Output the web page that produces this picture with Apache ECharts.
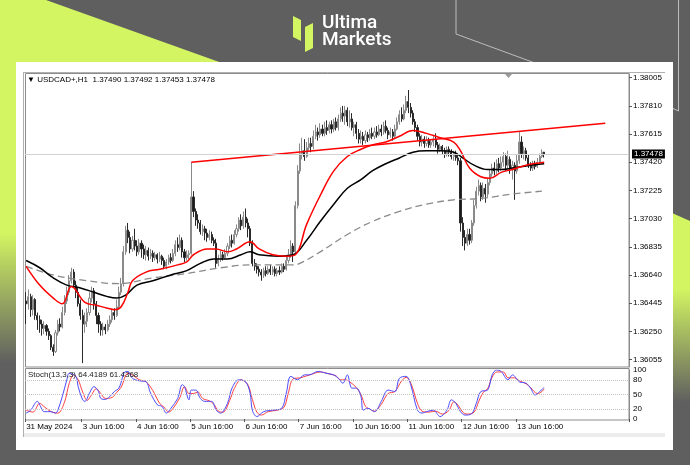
<!DOCTYPE html>
<html><head><meta charset="utf-8">
<script src="https://cdn.jsdelivr.net/npm/echarts@6/dist/echarts.min.js"></script>
<style>html,body{margin:0;padding:0;background:#5f5f5f}#c{width:690px;height:465px}</style>
</head><body><div id="c"></div>
<script>
const symbolName = 'USDCAD+,H1';
const lastOHLC = ['1.37490','1.37492','1.37453','1.37478'];
const lastPrice = 1.37478;
const stochTitle = 'Stoch(13,3,3) 64.4189 61.4368';
const dateTickIndex = [0,25,49,73,97,121,145,169,193,217];
const dateTickLabels = ['31 May 2024','3 Jun 16:00','4 Jun 16:00','5 Jun 16:00','6 Jun 16:00','7 Jun 16:00','10 Jun 16:00','11 Jun 16:00','12 Jun 16:00','13 Jun 16:00'];
const priceTicks = [1.36055,1.36250,1.36445,1.36640,1.36835,1.37030,1.37225,1.37420,1.37615,1.37810,1.38005];
const stochTicks = [0,20,50,80,100];
const stochLevels = [20,50,80];
const slotCount = 267;
// [open, close, low, high]
const candles = [
[1.3646,1.3644,1.3630,1.3652],[1.3644,1.3649,1.3640,1.3654],[1.3649,1.3640,1.3635,1.3651],[1.3640,1.3647,1.3636,1.3650],
[1.3647,1.3636,1.3633,1.3648],[1.3636,1.3633,1.3626,1.3638],[1.3633,1.3630,1.3624,1.3636],[1.3630,1.3627,1.3622,1.3633],
[1.3627,1.3629,1.3623,1.3632],[1.3629,1.3625,1.3622,1.3630],[1.3625,1.3622,1.3619,1.3627],[1.3622,1.3614,1.3612,1.3623],
[1.3614,1.3611,1.3608,1.3616],[1.3611,1.3624,1.3610,1.3626],[1.3624,1.3630,1.3622,1.3633],[1.3630,1.3628,1.3625,1.3634],
[1.3628,1.3638,1.3627,1.3642],[1.3638,1.3646,1.3636,1.3650],[1.3646,1.3652,1.3644,1.3656],[1.3652,1.3660,1.3650,1.3664],
[1.3660,1.3666,1.3658,1.3669],[1.3666,1.3657,1.3656,1.3668],[1.3657,1.3652,1.3648,1.3660],[1.3652,1.3644,1.3642,1.3655],
[1.3644,1.3636,1.3633,1.3647],[1.3636,1.3630,1.3603,1.3640],[1.3630,1.3632,1.3624,1.3638],[1.3632,1.3638,1.3628,1.3641],
[1.3638,1.3648,1.3636,1.3652],[1.3648,1.3653,1.3645,1.3656],[1.3653,1.3644,1.3640,1.3655],[1.3644,1.3636,1.3630,1.3646],
[1.3636,1.3630,1.3624,1.3638],[1.3630,1.3626,1.3622,1.3632],[1.3626,1.3628,1.3622,1.3631],[1.3628,1.3626,1.3623,1.3630],
[1.3626,1.3630,1.3625,1.3633],[1.3630,1.3633,1.3628,1.3636],[1.3633,1.3638,1.3631,1.3640],[1.3638,1.3636,1.3633,1.3641],
[1.3636,1.3642,1.3635,1.3647],[1.3642,1.3652,1.3640,1.3656],[1.3652,1.3658,1.3650,1.3662],[1.3658,1.3680,1.3656,1.3684],
[1.3680,1.3695,1.3678,1.3698],[1.3695,1.3690,1.3686,1.3700],[1.3690,1.3682,1.3679,1.3694],[1.3682,1.3688,1.3680,1.3691],
[1.3688,1.3684,1.3681,1.3696],[1.3684,1.3680,1.3677,1.3688],[1.3680,1.3686,1.3678,1.3689],[1.3686,1.3682,1.3676,1.3688],
[1.3682,1.3678,1.3675,1.3685],[1.3678,1.3681,1.3674,1.3684],[1.3681,1.3677,1.3674,1.3683],[1.3677,1.3679,1.3675,1.3682],
[1.3679,1.3676,1.3673,1.3681],[1.3676,1.3678,1.3674,1.3680],[1.3678,1.3675,1.3672,1.3679],[1.3675,1.3677,1.3673,1.3680],
[1.3677,1.3674,1.3671,1.3678],[1.3674,1.3670,1.3668,1.3676],[1.3670,1.3673,1.3668,1.3675],[1.3673,1.3676,1.3671,1.3678],
[1.3676,1.3674,1.3672,1.3679],[1.3674,1.3679,1.3673,1.3682],[1.3679,1.3685,1.3677,1.3688],[1.3685,1.3683,1.3680,1.3690],
[1.3683,1.3688,1.3681,1.3692],[1.3688,1.3680,1.3676,1.3690],[1.3680,1.3676,1.3673,1.3682],[1.3676,1.3678,1.3674,1.3681],
[1.3678,1.3679,1.3675,1.3681],[1.3679,1.3718,1.3678,1.3742],[1.3718,1.3708,1.3704,1.3722],[1.3708,1.3702,1.3698,1.3710],
[1.3702,1.3700,1.3696,1.3706],[1.3700,1.3694,1.3692,1.3702],[1.3694,1.3696,1.3691,1.3699],[1.3696,1.3693,1.3688,1.3698],
[1.3693,1.3690,1.3687,1.3696],[1.3690,1.3692,1.3688,1.3695],[1.3692,1.3688,1.3686,1.3694],[1.3688,1.3686,1.3684,1.3690],
[1.3686,1.3672,1.3669,1.3689],[1.3672,1.3675,1.3670,1.3678],[1.3675,1.3678,1.3673,1.3681],[1.3678,1.3676,1.3674,1.3680],
[1.3676,1.3679,1.3675,1.3682],[1.3679,1.3684,1.3677,1.3686],[1.3684,1.3688,1.3682,1.3691],[1.3688,1.3686,1.3683,1.3692],
[1.3686,1.3692,1.3685,1.3695],[1.3692,1.3696,1.3690,1.3699],[1.3696,1.3702,1.3694,1.3704],[1.3702,1.3698,1.3695,1.3706],
[1.3698,1.3704,1.3696,1.3708],[1.3704,1.3700,1.3697,1.3710],[1.3700,1.3696,1.3690,1.3703],[1.3696,1.3686,1.3684,1.3698],
[1.3686,1.3672,1.3670,1.3688],[1.3672,1.3670,1.3667,1.3675],[1.3670,1.3668,1.3665,1.3672],[1.3668,1.3666,1.3663,1.3670],
[1.3666,1.3664,1.3660,1.3668],[1.3664,1.3667,1.3662,1.3669],[1.3667,1.3665,1.3663,1.3670],[1.3665,1.3668,1.3664,1.3670],
[1.3668,1.3666,1.3664,1.3671],[1.3666,1.3668,1.3664,1.3670],[1.3668,1.3665,1.3663,1.3670],[1.3665,1.3667,1.3663,1.3669],
[1.3667,1.3666,1.3664,1.3670],[1.3666,1.3670,1.3665,1.3672],[1.3670,1.3668,1.3666,1.3672],[1.3668,1.3674,1.3667,1.3677],
[1.3674,1.3678,1.3672,1.3682],[1.3678,1.3684,1.3676,1.3688],[1.3684,1.3680,1.3673,1.3686],[1.3680,1.3712,1.3678,1.3715],
[1.3712,1.3736,1.3710,1.3740],[1.3736,1.3748,1.3734,1.3755],[1.3748,1.3750,1.3744,1.3759],[1.3750,1.3746,1.3743,1.3758],
[1.3746,1.3752,1.3745,1.3756],[1.3752,1.3755,1.3750,1.3759],[1.3755,1.3753,1.3749,1.3759],[1.3753,1.3760,1.3751,1.3764],
[1.3760,1.3763,1.3758,1.3768],[1.3763,1.3761,1.3757,1.3766],[1.3761,1.3765,1.3759,1.3769],[1.3765,1.3762,1.3760,1.3768],
[1.3762,1.3766,1.3760,1.3770],[1.3766,1.3764,1.3761,1.3771],[1.3764,1.3768,1.3762,1.3770],[1.3768,1.3765,1.3762,1.3771],
[1.3765,1.3770,1.3763,1.3772],[1.3770,1.3766,1.3764,1.3773],[1.3766,1.3772,1.3764,1.3775],[1.3772,1.3776,1.3770,1.3780],
[1.3776,1.3774,1.3770,1.3781],[1.3774,1.3778,1.3768,1.3781],[1.3778,1.3770,1.3767,1.3780],[1.3770,1.3772,1.3766,1.3778],
[1.3772,1.3766,1.3764,1.3776],[1.3766,1.3768,1.3760,1.3770],[1.3768,1.3762,1.3758,1.3770],[1.3762,1.3758,1.3755,1.3765],
[1.3758,1.3760,1.3755,1.3764],[1.3760,1.3757,1.3754,1.3763],[1.3757,1.3761,1.3755,1.3764],[1.3761,1.3759,1.3756,1.3763],
[1.3759,1.3762,1.3757,1.3765],[1.3762,1.3760,1.3758,1.3766],[1.3760,1.3763,1.3758,1.3766],[1.3763,1.3761,1.3759,1.3767],
[1.3761,1.3765,1.3760,1.3768],[1.3765,1.3763,1.3760,1.3768],[1.3763,1.3767,1.3761,1.3770],[1.3767,1.3764,1.3762,1.3771],
[1.3764,1.3761,1.3758,1.3766],[1.3761,1.3763,1.3759,1.3766],[1.3763,1.3760,1.3757,1.3765],[1.3760,1.3765,1.3758,1.3768],
[1.3765,1.3770,1.3764,1.3773],[1.3770,1.3775,1.3768,1.3778],[1.3775,1.3772,1.3770,1.3780],[1.3772,1.3778,1.3771,1.3782],
[1.3778,1.3784,1.3776,1.3788],[1.3784,1.3780,1.3776,1.3792],[1.3780,1.3776,1.3773,1.3783],[1.3776,1.3770,1.3768,1.3778],
[1.3770,1.3766,1.3763,1.3772],[1.3766,1.3760,1.3757,1.3768],[1.3760,1.3756,1.3753,1.3762],[1.3756,1.3758,1.3753,1.3761],
[1.3758,1.3755,1.3752,1.3760],[1.3755,1.3757,1.3753,1.3760],[1.3757,1.3754,1.3752,1.3759],[1.3754,1.3756,1.3752,1.3758],
[1.3756,1.3758,1.3753,1.3761],[1.3758,1.3754,1.3752,1.3762],[1.3754,1.3751,1.3748,1.3756],[1.3751,1.3753,1.3749,1.3755],
[1.3753,1.3750,1.3747,1.3754],[1.3750,1.3748,1.3745,1.3752],[1.3748,1.3751,1.3746,1.3753],[1.3751,1.3749,1.3746,1.3753],
[1.3749,1.3746,1.3744,1.3751],[1.3746,1.3748,1.3743,1.3750],[1.3748,1.3745,1.3743,1.3750],[1.3745,1.3743,1.3740,1.3747],
[1.3743,1.3700,1.3694,1.3745],[1.3700,1.3690,1.3684,1.3704],[1.3690,1.3686,1.3681,1.3695],[1.3686,1.3692,1.3684,1.3696],
[1.3692,1.3688,1.3685,1.3696],[1.3688,1.3700,1.3686,1.3702],[1.3700,1.3712,1.3698,1.3716],[1.3712,1.3722,1.3710,1.3725],
[1.3722,1.3726,1.3719,1.3730],[1.3726,1.3718,1.3715,1.3728],[1.3718,1.3724,1.3716,1.3728],[1.3724,1.3720,1.3714,1.3727],
[1.3720,1.3728,1.3718,1.3731],[1.3728,1.3734,1.3726,1.3737],[1.3734,1.3738,1.3732,1.3741],[1.3738,1.3736,1.3733,1.3742],
[1.3736,1.3741,1.3734,1.3744],[1.3741,1.3738,1.3735,1.3745],[1.3738,1.3742,1.3736,1.3746],[1.3742,1.3746,1.3739,1.3749],
[1.3746,1.3740,1.3736,1.3748],[1.3740,1.3744,1.3738,1.3750],[1.3744,1.3738,1.3734,1.3746],[1.3738,1.3740,1.3730,1.3743],
[1.3740,1.3736,1.3716,1.3742],[1.3736,1.3743,1.3734,1.3747],[1.3743,1.3756,1.3741,1.3763],[1.3756,1.3748,1.3745,1.3760],
[1.3748,1.3750,1.3744,1.3753],[1.3750,1.3745,1.3743,1.3752],[1.3745,1.3740,1.3738,1.3747],[1.3740,1.3738,1.3736,1.3742],
[1.3738,1.3741,1.3736,1.3743],[1.3741,1.3739,1.3737,1.3743],[1.3739,1.3742,1.3738,1.3745],[1.3742,1.3746,1.3741,1.3748],
[1.3746,1.3749,1.3745,1.3751],[1.37490,1.37478,1.37453,1.37492]
];
const maRed = [[0,1.3670],[6,1.3657],[12,1.3648],[16,1.3644],[20,1.3656],[26,1.3645],[31,1.3643],[36,1.3641],[39,1.3640],[42,1.3642],[45,1.3652],[47,1.3660],[53,1.3666],[59,1.3668],[67,1.3671],[71,1.3673],[74,1.3678],[80,1.3682],[84,1.3682],[89,1.3680],[93,1.3682],[99,1.3687],[103,1.3682],[109,1.3678],[115,1.3677],[119,1.3678],[124,1.3699],[130,1.3719],[136,1.3736],[142,1.3746],[148,1.3751],[153,1.3754],[159,1.3756],[165,1.3760],[171,1.3764],[177,1.3762],[183,1.3759],[189,1.3756],[192,1.3750],[196,1.3738],[201,1.3732],[205,1.3731],[210,1.3735],[215,1.3737],[221,1.3740],[229,1.3742]];
const maBlack = [[0,1.3674],[6,1.3669],[12,1.3662],[18,1.3657],[24,1.3655],[30,1.3652],[36,1.3649],[40,1.3648],[44,1.3650],[49,1.3657],[56,1.3660],[64,1.3664],[71,1.3667],[77,1.3672],[83,1.3675],[89,1.3675],[95,1.3678],[99,1.3680],[103,1.3678],[112,1.3677],[118,1.3678],[124,1.3688],[130,1.3701],[136,1.3713],[142,1.3724],[148,1.3730],[153,1.3736],[159,1.3741],[165,1.3745],[171,1.3749],[177,1.3750],[183,1.3750],[189,1.3749],[193,1.3745],[198,1.3740],[204,1.3737],[210,1.3737],[215,1.3738],[223,1.3740],[229,1.3741]];
const maGrey = [[0,1.3670],[12,1.3664],[27,1.3660],[41,1.3658],[56,1.3662],[71,1.3665],[86,1.3669],[100,1.3671],[118,1.3671],[121,1.3672],[130,1.3680],[142,1.3692],[153,1.3701],[165,1.3708],[177,1.3713],[189,1.3716],[201,1.3717],[215,1.3720],[228,1.3722]];
const trendLine = [[73,1.37420],[256,1.37690]];
const stochMain = [[0,12],[2,18],[5,36],[6,29],[8,15],[11,15],[13,12],[14,18],[16,46],[18,80],[19,93],[22,87],[23,66],[25,39],[26,36],[28,53],[30,66],[32,56],[33,42],[35,40],[37,46],[39,56],[41,63],[44,97],[45,97],[47,83],[50,78],[53,76],[55,53],[58,29],[60,26],[62,12],[64,22],[67,42],[69,70],[70,66],[72,39],[73,59],[75,59],[77,42],[79,36],[82,36],[84,18],[86,12],[89,32],[91,63],[94,80],[97,76],[99,53],[100,18],[102,5],[105,15],[109,18],[113,22],[115,53],[117,87],[120,80],[123,90],[125,90],[129,97],[133,93],[136,90],[138,83],[140,73],[142,90],[144,63],[146,63],[148,46],[149,18],[151,22],[154,15],[157,36],[160,59],[163,56],[165,83],[168,87],[170,70],[173,18],[175,12],[177,15],[180,18],[183,5],[186,18],[188,39],[190,32],[192,15],[194,8],[197,11],[199,32],[201,56],[204,59],[206,90],[208,100],[210,97],[213,80],[215,90],[218,76],[221,73],[223,63],[225,49],[227,56],[229,64.4189]];
const stochSignal = [[0,18],[3,14],[6,32],[8,25],[11,15],[14,12],[17,35],[19,72],[21,90],[23,80],[25,55],[27,38],[29,50],[31,62],[33,52],[35,42],[38,44],[40,54],[42,65],[45,93],[47,90],[50,80],[53,76],[56,58],[59,32],[61,24],[63,14],[65,22],[68,44],[70,66],[72,52],[74,52],[76,55],[78,42],[81,37],[83,30],[85,16],[87,14],[90,38],[92,62],[95,80],[98,70],[100,40],[102,14],[104,8],[107,15],[111,18],[114,24],[116,55],[118,82],[121,84],[124,88],[126,91],[130,96],[134,92],[137,88],[139,80],[141,80],[143,76],[146,64],[148,50],[150,26],[152,20],[154,16],[157,30],[160,52],[163,56],[166,78],[168,85],[170,74],[173,32],[175,16],[178,14],[181,16],[184,10],[187,18],[189,35],[191,28],[193,14],[195,10],[198,14],[200,35],[202,54],[204,62],[206,85],[208,96],[211,96],[213,84],[216,84],[218,78],[221,72],[223,64],[226,52],[228,56],[229,61.4368]];

const cats = Array.from({length: slotCount}, (_, i) => String(i));
const lime = '#d3f562', bgGrey = '#5f5f5f';
const FONT = 'Liberation Sans, Arial, sans-serif';

const chart = echarts.init(document.getElementById('c'), null, {renderer: 'canvas'});
const isDateTick = (idx) => dateTickIndex.indexOf(idx) >= 0;

chart.setOption({
  animation: false,
  backgroundColor: bgGrey,
  graphic: [
    {type:'polygon', z:-20, shape:{points:[[0,0],[46,0],[222,63],[16,63],[16,465],[0,465]]},
      style:{fill:{type:'linear',x:0,y:0,x2:0,y2:465,global:true,colorStops:[{offset:0,color:lime},{offset:0.5,color:lime},{offset:0.78,color:bgGrey},{offset:1,color:bgGrey}]}}},
    {type:'polygon', z:-20, shape:{points:[[672,213],[690,221],[690,465],[672,465]]},
      style:{fill:{type:'linear',x:0,y:213,x2:0,y2:465,global:true,colorStops:[{offset:0,color:lime},{offset:0.3,color:lime},{offset:0.75,color:bgGrey},{offset:1,color:bgGrey}]}}},
    {type:'polyline', z:-20, shape:{points:[[456,0],[456,34],[535,63]]}, style:{stroke:'#bdbdbd', lineWidth:1, fill:null}},
    {type:'polyline', z:-20, shape:{points:[[678.5,0],[678.5,111],[672,108]]}, style:{stroke:'#bdbdbd', lineWidth:1, fill:null}},
    {type:'polygon', z:-20, shape:{points:[[293,16],[301,20],[301,41],[293,37]]}, style:{fill:lime}},
    {type:'polygon', z:-20, shape:{points:[[305,27],[313,23],[313,48],[305,52]]}, style:{fill:lime}},
    {type:'text', z:-20, style:{text:'Ultima', x:322, y:23, fill:'#ffffff', font:'500 19px Roboto', textVerticalAlign:'middle'}},
    {type:'text', z:-20, style:{text:'Markets', x:322, y:40, fill:'#ffffff', font:'500 19px Roboto', textVerticalAlign:'middle'}},
    {type:'rect', z:-15, shape:{x:16,y:62,width:657,height:388}, style:{fill:'#ffffff'}},
    {type:'rect', z:-14, shape:{x:23,y:433,width:642,height:4}, style:{fill:'#ececec'}},
    {type:'line', z:-10, shape:{x1:23.5,y1:72,x2:23.5,y2:437}, style:{stroke:'#b0b0b0', lineWidth:1}},
    {type:'line', z:-10, shape:{x1:23,y1:72.5,x2:665,y2:72.5}, style:{stroke:'#b0b0b0', lineWidth:1}},
    {type:'rect', z:-10, shape:{x:25.5,y:73.5,width:603.5,height:293.5}, style:{fill:null, stroke:'#8c8c8c', lineWidth:1}},
    {type:'rect', z:-10, shape:{x:25.5,y:368.5,width:603.5,height:51.5}, style:{fill:null, stroke:'#8c8c8c', lineWidth:1}},
    {type:'polygon', z:5, shape:{points:[[505,74],[512,74],[508.5,78]]}, style:{fill:'#9a9a9a'}},
    {type:'text', z:5, style:{text:'\u25BC ' + symbolName + '  ' + lastOHLC.join(' '), x:27, y:80, fill:'#000', font:'8px ' + FONT, textVerticalAlign:'middle'}},
    {type:'text', z:5, style:{text:stochTitle, x:28, y:375, fill:'#222', font:'8px ' + FONT, textVerticalAlign:'middle'}}
  ],
  grid: [
    {left:25, top:74, width:604, height:293},
    {left:25, top:370, width:604, height:49}
  ],
  xAxis: [
    {type:'category', gridIndex:0, data:cats, boundaryGap:true, show:false},
    {type:'category', gridIndex:1, data:cats, boundaryGap:true,
      axisLine:{show:false},
      axisTick:{show:true, interval:(idx)=>isDateTick(idx), length:3, lineStyle:{color:'#555'}},
      axisLabel:{show:true, interval:(idx)=>isDateTick(idx), align:'left', margin:4, fontSize:8, fontFamily:FONT, color:'#000',
        formatter:(v, idx)=>{ const k = dateTickIndex.indexOf(Number(v)); return k>=0 ? dateTickLabels[k] : ''; }},
      splitLine:{show:false}}
  ],
  yAxis: [
    {type:'value', gridIndex:0, position:'right', min:1.360031, max:1.380309, scale:true,
      axisLine:{show:true, lineStyle:{color:'#8c8c8c'}},
      axisTick:{show:true, customValues:priceTicks, length:3, lineStyle:{color:'#555'}},
      axisLabel:{show:true, customValues:priceTicks, formatter:(v)=>Number(v).toFixed(5), fontSize:8, fontFamily:FONT, color:'#000', margin:4},
      splitLine:{show:false}},
    {type:'value', gridIndex:1, position:'right', min:0, max:100,
      axisLine:{show:true, lineStyle:{color:'#8c8c8c'}},
      axisTick:{show:false},
      axisLabel:{show:true, customValues:stochTicks, fontSize:8, fontFamily:FONT, color:'#000', margin:4},
      splitLine:{show:false}}
  ],
  series: [
    {type:'line', xAxisIndex:0, yAxisIndex:0, data:trendLine, showSymbol:false, z:1, lineStyle:{color:'#ff0000', width:0, opacity:0},
      markLine:{silent:true, symbol:['none','none'], animation:false, precision:5,
        lineStyle:{color:'#d2d2d2', width:1, type:'solid'},
        label:{show:true, position:'end', distance:3, formatter:()=>lastOHLC[3], backgroundColor:'#000', color:'#fff', fontSize:8, fontFamily:FONT, padding:[1,2,0,2]},
        data:[{yAxis:lastPrice}]}},
    {type:'candlestick', xAxisIndex:0, yAxisIndex:0, data:candles, barWidth:1.6,
      itemStyle:{color:'#ffffff', color0:'#1a1a1a', borderColor:'#8a8a8a', borderColor0:'#2a2a2a', borderWidth:1}},
    {type:'line', xAxisIndex:0, yAxisIndex:0, data:maGrey, smooth:0.4, showSymbol:false, lineStyle:{color:'#8a8a8a', width:1.3, type:[7,4]}},
    {type:'line', xAxisIndex:0, yAxisIndex:0, data:maBlack, smooth:0.4, showSymbol:false, lineStyle:{color:'#000', width:1.5}},
    {type:'line', xAxisIndex:0, yAxisIndex:0, data:maRed, smooth:0.4, showSymbol:false, lineStyle:{color:'#ff0000', width:1.5}},
    {type:'line', xAxisIndex:0, yAxisIndex:0, data:trendLine, showSymbol:false, lineStyle:{color:'#ff0000', width:1.5}},
    {type:'line', xAxisIndex:1, yAxisIndex:1, data:stochSignal, smooth:0.35, showSymbol:false, lineStyle:{color:'#ff4040', width:1},
      markLine:{silent:true, symbol:['none','none'], label:{show:false}, lineStyle:{color:'#c4c4c4', width:1, type:'dotted'},
        data: stochLevels.map(v=>({yAxis:v}))}},
    {type:'line', xAxisIndex:1, yAxisIndex:1, data:stochMain, smooth:0.35, showSymbol:false, lineStyle:{color:'#4a4aff', width:1}}
  ]
});
</script>
</body></html>
